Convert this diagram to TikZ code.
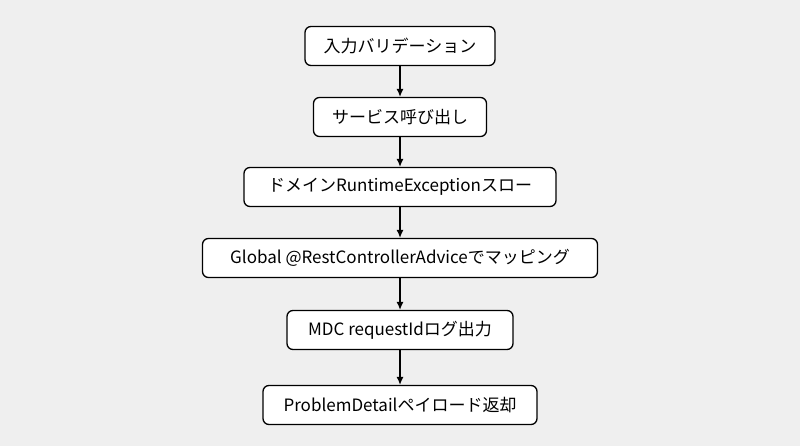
\documentclass[tikz,border=0pt]{standalone}
\usepackage{fontspec}
\setmainfont{Noto Sans CJK JP}
\usetikzlibrary{arrows.meta}
\begin{document}
\begin{tikzpicture}[x=1pt,y=-1pt,
box/.style={draw=black,line width=1.3pt,fill=white,rounded corners=6pt,minimum height=39pt,inner xsep=8pt,font=\fontsize{17}{20}\selectfont},
arr/.style={-{Latex[length=8pt,width=7pt]},line width=1.2pt}]
\fill[fill={rgb,255:red,239;green,239;blue,239}] (0,0) rectangle (800,446);
\useasboundingbox (0,0) rectangle (800,446);
\node[box,minimum width=190pt] (a) at (400,46) {入力バリデーション};
\node[box,minimum width=173pt] (b) at (400,117) {サービス呼び出し};
\node[box,minimum width=312pt] (c) at (400,187) {ドメインRuntimeExceptionスロー};
\node[box,minimum width=395pt] (d) at (400,258) {Global @RestControllerAdviceでマッピング};
\node[box,minimum width=226pt] (e) at (400,330) {MDC requestIdログ出力};
\node[box,minimum width=274pt] (f) at (400,405) {ProblemDetailペイロード返却};
\draw[arr] (a) -- (b);
\draw[arr] (b) -- (c);
\draw[arr] (c) -- (d);
\draw[arr] (d) -- (e);
\draw[arr] (e) -- (f);
\end{tikzpicture}
\end{document}
